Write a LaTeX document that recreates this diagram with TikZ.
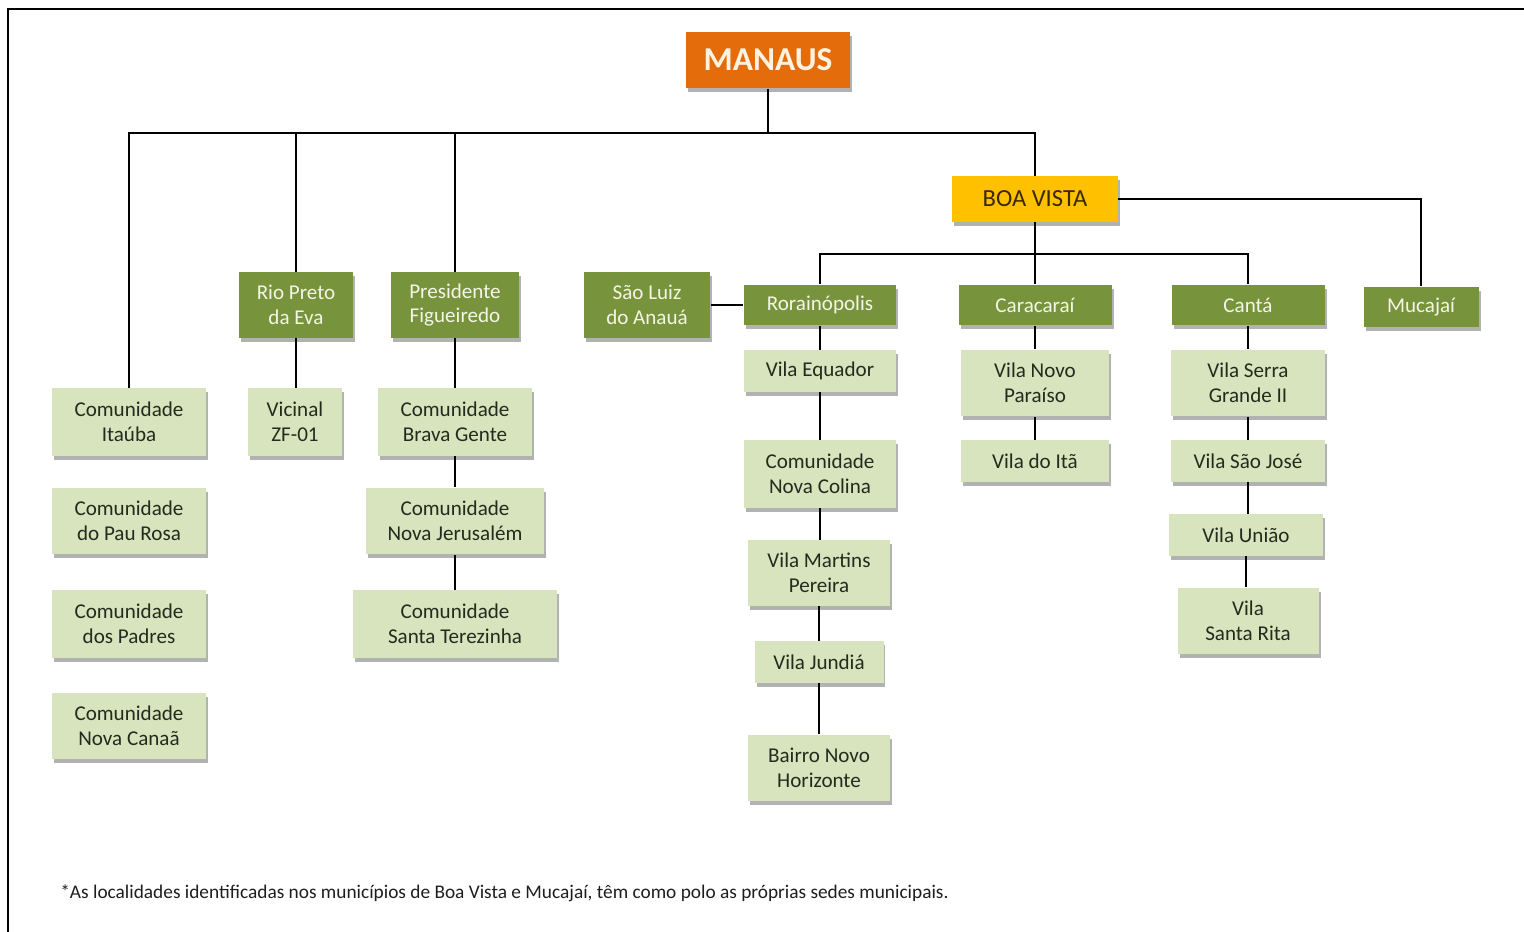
\documentclass[tikz,border=0pt]{standalone}
\usepackage{fontspec}
\setmainfont{Carlito}
\usetikzlibrary{shadows}

\definecolor{manausorange}{RGB}{228,108,10}
\definecolor{bvyellow}{RGB}{255,192,0}
\definecolor{munolive}{RGB}{119,147,60}
\definecolor{loclight}{RGB}{215,228,189}
\definecolor{loctext}{RGB}{38,42,30}

\tikzset{
  boxshadow/.style={drop shadow={shadow xshift=0.04cm,shadow yshift=-0.08cm,opacity=0.3,fill=black}},
  capbox/.style={fill=manausorange,text={rgb,255:red,255;green,242;blue,225},boxshadow,
    inner sep=0pt,minimum width=3.3cm,minimum height=1.14cm,font=\fontsize{19}{22}\selectfont\bfseries},
  hubbox/.style={fill=bvyellow,text={rgb,255:red,60;green,40;blue,0},boxshadow,
    inner sep=0pt,minimum width=3.32cm,minimum height=0.92cm,font=\fontsize{14}{16}\selectfont},
  munbox/.style={fill=munolive,text={rgb,255:red,245;green,245;blue,230},boxshadow,align=center,
    inner sep=0pt,minimum height=0.82cm,font=\fontsize{12}{14.2}\selectfont},
  locbox/.style={fill=loclight,text=loctext,boxshadow,align=center,
    inner sep=0pt,minimum height=0.84cm,font=\fontsize{12}{14.2}\selectfont},
  link/.style={draw=black,line width=0.75pt}
}

\begin{document}
\begin{tikzpicture}[x=0.02cm,y=-0.02cm]
  \useasboundingbox (0,0) rectangle (1524,932);
  % frame
  \draw[line width=1.7pt] (8,932) -- (8,9) -- (1524,9);

  % top levels
  \node[capbox] (manaus) at (768,60) {MANAUS};
  \node[hubbox] (boavista) at (1035,199) {BOA VISTA};
  \coordinate (mbus) at (0,133);
  \coordinate (bvbus) at (0,254);

  % municipalities
  \node[munbox,minimum width=2.3cm,minimum height=1.32cm] (riopreto) at (296,305) {Rio Preto\\da Eva};
  \node[munbox,minimum width=2.56cm,minimum height=1.32cm] (presidente) at (455,305) {Presidente\\Figueiredo};
  \node[munbox,minimum width=2.54cm,minimum height=1.32cm] (saoluiz) at (647,305) {São Luiz\\do Anauá};
  \node[munbox,minimum width=3.06cm] (rorainopolis) at (820,305) {Rorainópolis};
  \node[munbox,minimum width=3.06cm] (caracarai) at (1035,305) {Caracaraí};
  \node[munbox,minimum width=3.06cm] (canta) at (1248,305) {Cantá};
  \node[munbox,minimum width=2.3cm] (mucajai) at (1421,307) {Mucajaí};

  % Manaus localities
  \node[locbox,minimum width=3.08cm,minimum height=1.36cm] (itauba) at (129,422) {Comunidade\\Itaúba};
  \node[locbox,minimum width=3.08cm,minimum height=1.34cm] (paurosa) at (129,521) {Comunidade\\do Pau Rosa};
  \node[locbox,minimum width=3.08cm,minimum height=1.36cm] (padres) at (129,624) {Comunidade\\dos Padres};
  \node[locbox,minimum width=3.08cm,minimum height=1.34cm] (novacanaa) at (129,726) {Comunidade\\Nova Canaã};

  % Rio Preto da Eva / Presidente Figueiredo localities
  \node[locbox,minimum width=1.9cm,minimum height=1.36cm] (vicinal) at (295,422) {Vicinal\\ZF-01};
  \node[locbox,minimum width=3.08cm,minimum height=1.36cm] (bravagente) at (455,422) {Comunidade\\Brava Gente};
  \node[locbox,minimum width=3.58cm,minimum height=1.34cm] (jerusalem) at (455,521) {Comunidade\\Nova Jerusalém};
  \node[locbox,minimum width=4.1cm,minimum height=1.36cm] (terezinha) at (455,624) {Comunidade\\Santa Terezinha};

  % Rorainopolis localities
  \node[locbox,minimum width=3.06cm] (equador) at (820,371) {Vila Equador};
  \node[locbox,minimum width=3.06cm,minimum height=1.36cm] (novacolina) at (820,474) {Comunidade\\Nova Colina};
  \node[locbox,minimum width=2.84cm,minimum height=1.32cm] (martins) at (819,573) {Vila Martins\\Pereira};
  \node[locbox,minimum width=2.58cm] (jundia) at (819,662) {Vila Jundiá};
  \node[locbox,minimum width=2.84cm,minimum height=1.34cm] (novohorizonte) at (819,768) {Bairro Novo\\Horizonte};

  % Caracarai localities
  \node[locbox,minimum width=2.96cm,minimum height=1.34cm] (novoparaiso) at (1035,383) {Vila Novo\\Paraíso};
  \node[locbox,minimum width=2.96cm] (vilaita) at (1035,461) {Vila do Itã};

  % Canta localities
  \node[locbox,minimum width=3.08cm,minimum height=1.34cm] (serragrande) at (1248,383) {Vila Serra\\Grande II};
  \node[locbox,minimum width=3.08cm] (saojose) at (1248,461) {Vila São José};
  \node[locbox,minimum width=3.08cm] (uniao) at (1246,535) {Vila União};
  \node[locbox,minimum width=2.82cm,minimum height=1.34cm] (santarita) at (1248,621) {Vila\\Santa Rita};

  % connectors
  \draw[link] (manaus.south) -- (manaus.south |- mbus);
  \draw[link] (itauba.north) -- (itauba.north |- mbus) -- (boavista.north |- mbus) -- (boavista.north);
  \draw[link] (riopreto.north) -- (riopreto.north |- mbus);
  \draw[link] (presidente.north) -- (presidente.north |- mbus);
  \draw[link] (boavista.east) -| (mucajai.north);
  \draw[link] (boavista.south) -- (caracarai.north);
  \draw[link] (rorainopolis.north) -- (rorainopolis.north |- bvbus) -- (canta.north |- bvbus) -- (canta.north);
  \draw[link] (saoluiz.east) -- (rorainopolis.west);

  \foreach \a/\b in {riopreto/vicinal,presidente/bravagente,bravagente/jerusalem,jerusalem/terezinha,
      rorainopolis/equador,equador/novacolina,novacolina/martins,martins/jundia,jundia/novohorizonte,
      caracarai/novoparaiso,novoparaiso/vilaita,
      canta/serragrande,serragrande/saojose,saojose/uniao,uniao/santarita}
    \draw[link] (\a.south) -- (\a.south |- \b.north);

  % footnote
  \node[anchor=west,inner sep=0pt,text={rgb,255:red,30;green,30;blue,30},font=\fontsize{11}{13}\selectfont] (note) at (60,893)
    {*As localidades identificadas nos municípios de Boa Vista e Mucajaí, têm como polo as próprias sedes municipais.};
\end{tikzpicture}
\end{document}
